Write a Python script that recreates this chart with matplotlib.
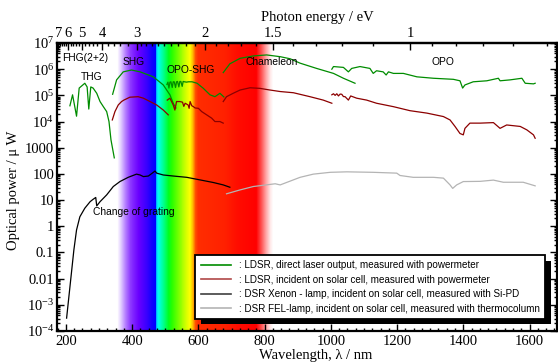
import numpy as np
import matplotlib
matplotlib.use('Agg')
import matplotlib.pyplot as plt
import matplotlib.patheffects as pe
from matplotlib.ticker import FixedLocator, FuncFormatter, NullFormatter
from matplotlib.lines import Line2D

plt.rcParams['font.family'] = ['Liberation Serif', 'DejaVu Serif']
plt.rcParams['mathtext.fontset'] = 'custom'
plt.rcParams['mathtext.rm'] = 'Liberation Serif'
plt.rcParams['mathtext.default'] = 'regular'

# ---------------- data (wavelength nm, power uW) ----------------
g_thg_nm = [212, 220, 232, 240, 257, 264, 269, 275, 282, 293, 303, 313, 323, 330, 336, 346]
g_thg_p = [4.0e4, 1.05e5, 1.6e4, 1.9e5, 2.9e5, 2.1e5, 3.0e4, 2.1e5, 1.9e5, 1.2e5, 5.8e4,
           3.7e4, 2.4e4, 1.0e4, 2.0e3, 4.1e2]
g_shg_nm = [341, 353, 373, 398, 424, 464, 494, 514, 524, 532]
g_shg_p = [1.1e5, 3.9e5, 7.9e5, 9.3e5, 7.9e5, 5.1e5, 2.5e5, 1.05e5, 5.0e4, 3.3e4]
g_oposhg_nm = [505, 508, 511, 514, 517, 521, 524, 527, 531, 534, 537, 541, 544, 547, 551,
               554, 558, 564, 570, 581, 596, 614, 635, 650, 665, 677]
g_oposhg_p = [2.6e5, 3.2e5, 1.9e5, 3.2e5, 3.3e5, 2.0e5, 3.3e5, 3.3e5, 2.0e5, 3.3e5, 3.4e5,
              2.1e5, 3.4e5, 3.4e5, 2.2e5, 3.4e5, 3.3e5, 3.2e5, 3.3e5, 3.3e5, 2.9e5, 1.9e5,
              1.05e5, 8.9e4, 1.2e5, 8.7e4]
g_cham_nm = [675, 695, 726, 766, 806, 847, 877, 907, 957, 1008, 1038, 1073]
g_cham_p = [7.4e5, 1.6e6, 2.6e6, 3.2e6, 3.5e6, 3.0e6, 2.5e6, 1.7e6, 1.07e6, 6.9e5, 4.5e5, 2.9e5]
g_opo_nm = [1003, 1008, 1038, 1053, 1063, 1088, 1118, 1128, 1138, 1158, 1167, 1174, 1189,
            1219, 1260, 1310, 1370, 1390, 1398, 1405, 1430, 1471, 1506, 1511, 1541, 1577,
            1587, 1612, 1617]
g_opo_p = [1.0e6, 1.26e6, 1.17e6, 7.9e5, 1.07e6, 1.26e6, 1.07e6, 6.9e5, 8.7e5, 7.9e5, 6.0e5,
           7.9e5, 6.9e5, 6.9e5, 5.1e5, 4.5e5, 4.1e5, 3.6e5, 1.9e5, 2.5e5, 3.3e5, 3.6e5,
           4.5e5, 3.6e5, 3.9e5, 4.5e5, 2.9e5, 2.75e5, 2.9e5]

r_shg_nm = [340, 348, 358, 368, 375, 393, 418, 434, 454, 474, 494, 509]
r_shg_p = [1.15e4, 2.4e4, 4.3e4, 5.8e4, 6.6e4, 8.5e4, 8.9e4, 7.8e4, 5.8e4, 4.3e4, 2.75e4, 1.8e4]
r_oposhg_nm = [506, 514, 524, 529, 534, 544, 552, 556, 560, 565, 569, 572, 575, 580, 585,
               590, 600, 610, 625, 640, 650, 665, 675]
r_oposhg_p = [6.6e4, 7.8e4, 4.3e4, 2.75e4, 5.8e4, 5.8e4, 5.5e4, 3.8e4, 5.0e4, 4.6e4, 4.3e4,
              3.2e4, 5.8e4, 4.0e4, 3.7e4, 3.3e4, 3.2e4, 2.4e4, 1.8e4, 1.35e4, 1.0e4, 1.0e4,
              8.7e3]
r_cham_nm = [675, 685, 705, 726, 756, 786, 816, 847, 887, 937, 977, 1003]
r_cham_p = [5.8e4, 8.9e4, 1.2e5, 1.6e5, 1.95e5, 1.85e5, 1.6e5, 1.4e5, 1.26e5, 8.9e4, 6.6e4, 5.0e4]
r_opo_nm = [1003, 1008, 1013, 1018, 1023, 1028, 1033, 1038, 1043, 1053, 1060, 1078, 1108,
            1138, 1189, 1239, 1290, 1340, 1360, 1375, 1390, 1400, 1405, 1420, 1451, 1491,
            1511, 1531, 1572, 1592, 1612, 1617]
r_opo_p = [1.05e5, 1.15e5, 1.0e5, 1.15e5, 9.5e4, 1.12e5, 1.1e5, 9.0e4, 8.9e4, 6.6e4, 9.5e4,
           7.8e4, 6.6e4, 5.0e4, 3.7e4, 2.6e4, 2.1e4, 1.55e4, 1.15e4, 6.5e3, 3.5e3, 3.1e3,
           5.5e3, 8.7e3, 8.7e3, 9.1e3, 5.5e3, 7.4e3, 6.5e3, 4.8e3, 3.1e3, 2.3e3]

k_nm = [202, 224, 232, 242, 257, 273, 282, 290, 293, 303, 323, 343, 363, 388, 413, 424,
        434, 449, 464, 469, 474, 494, 524, 565, 605, 645, 675, 695]
k_p = [3.1e-4, 0.126, 0.72, 2.3, 4.9, 8.7, 10.7, 12.6, 6.0, 8.7, 15.8, 33, 51, 74, 98, 91,
       79, 83, 115, 129, 107, 91, 83, 74, 59, 47, 38, 31]

gr_nm = [685, 726, 766, 832, 847, 907, 947, 998, 1048, 1128, 1199, 1209, 1249, 1310, 1340,
         1360, 1368, 1380, 1400, 1451, 1491, 1521, 1581, 1617]
gr_p = [17.4, 24.5, 33, 42, 38, 74, 98, 115, 120, 115, 107, 87, 74, 74, 69, 38, 28, 38, 51,
        52, 58, 48, 48, 35]

legend_labels = [": LDSR, direct laser output, measured with powermeter",
                 ": LDSR, incident on solar cell, measured with powermeter",
                 ": DSR Xenon - lamp, incident on solar cell, measured with Si-PD",
                 ": DSR FEL-lamp, incident on solar cell, measured with thermocolumn"]
energy_ticks = [7, 6, 5, 4, 3, 2, 1.5, 1]
wl_ticks = [200, 400, 600, 800, 1000, 1200, 1400, 1600]
y_exponents = list(range(-4, 8))

# ---------------- figure ----------------
fig = plt.figure(figsize=(5.58, 3.64), dpi=100)
ax = fig.add_axes([57/558, 33/364, 500/558, 288/364])
ax.set_yscale('log')
ax.set_xlim(173, 1683)
ax.set_ylim(1e-4, 1e7)

# spectral background
stops = [(355, (255, 255, 255)), (365, (228, 210, 255)), (380, (180, 125, 255)),
         (395, (140, 55, 255)), (420, (105, 0, 255)), (445, (55, 0, 255)), (460, (15, 0, 255)),
         (471, (0, 0, 255)), (474, (0, 215, 255)), (480, (0, 255, 235)), (495, (0, 255, 140)),
         (510, (0, 255, 30)), (520, (40, 255, 0)), (545, (140, 255, 0)), (565, (220, 255, 0)),
         (575, (255, 255, 0)), (583, (255, 190, 0)), (592, (255, 75, 0)), (600, (255, 45, 0)),
         (680, (255, 32, 0)), (720, (255, 12, 0)), (775, (255, 0, 0)), (790, (255, 80, 80)),
         (805, (255, 170, 170)), (818, (255, 235, 235)), (826, (255, 255, 255))]
sn = np.array([s[0] for s in stops], float)
sc = np.array([s[1] for s in stops], float) / 255.0
xe = np.arange(355, 827, 1.0)
xc = 0.5 * (xe[:-1] + xe[1:])
cols = np.stack([np.interp(xc, sn, sc[:, i]) for i in range(3)], axis=1)
img = cols[np.newaxis, :, :]
ax.pcolormesh(xe, [1e-4, 1e7], img, shading='flat', zorder=0, rasterized=True)

green = '#008c00'
red = '#8c0000'
black = '#000000'
gray = '#b4b4b4'
lw = 0.9
for xs, ys in [(g_thg_nm, g_thg_p), (g_shg_nm, g_shg_p), (g_oposhg_nm, g_oposhg_p),
               (g_cham_nm, g_cham_p), (g_opo_nm, g_opo_p)]:
    ax.plot(xs, ys, color=green, lw=lw, zorder=3)
for xs, ys in [(r_shg_nm, r_shg_p), (r_oposhg_nm, r_oposhg_p), (r_cham_nm, r_cham_p),
               (r_opo_nm, r_opo_p)]:
    ax.plot(xs, ys, color=red, lw=lw, zorder=3)
ax.plot(k_nm, k_p, color=black, lw=lw, zorder=3)
ax.plot(gr_nm, gr_p, color=gray, lw=lw, zorder=3)

# annotations
sans = ['Liberation Sans', 'DejaVu Sans']
fs_a = 7.4
ax.text(187, 2.6e6, 'FHG(2+2)', family=sans, fontsize=fs_a, ha='left', va='center', zorder=4)
ax.text(278, 5.2e5, 'THG', family=sans, fontsize=fs_a, ha='center', va='center', zorder=4)
ax.text(405, 1.8e6, 'SHG', family=sans, fontsize=fs_a, ha='center', va='center', zorder=4)
ax.text(577, 9.3e5, 'OPO-SHG', family=sans, fontsize=fs_a, ha='center', va='center', zorder=4)
ax.text(741, 1.8e6, 'Chameleon', family=sans, fontsize=fs_a, ha='left', va='center', zorder=4)
ax.text(1339, 1.9e6, 'OPO', family=sans, fontsize=fs_a, ha='center', va='center', zorder=4)
ax.text(282, 3.5, 'Change of grating', family=sans, fontsize=fs_a, ha='left', va='center', zorder=4)

# axes styling
for s in ax.spines.values():
    s.set_linewidth(1.6)
    s.set_zorder(5)
ax.xaxis.set_major_locator(FixedLocator(wl_ticks))
ax.xaxis.set_minor_locator(FixedLocator(np.arange(175, 1680, 25)))
ax.yaxis.set_major_locator(FixedLocator([10.0 ** e for e in y_exponents]))
ax.yaxis.set_minor_locator(FixedLocator([m * 10.0 ** e for e in y_exponents[:-1]
                                         for m in range(2, 10)]))
ax.yaxis.set_minor_formatter(NullFormatter())

def yfmt(v, pos):
    e = int(round(np.log10(v)))
    names = {-2: '0.01', -1: '0.1', 0: '1', 1: '10', 2: '100', 3: '1000'}
    if e in names:
        return names[e]
    return r'$10^{%d}$' % e
ax.yaxis.set_major_formatter(FuncFormatter(yfmt))
ax.tick_params(which='both', direction='in', top=False, right=True, labelsize=10.5,
               width=1.0)
ax.tick_params(which='major', length=5)
ax.tick_params(which='minor', length=2.5)
ax.tick_params(axis='x', pad=3)
ax.tick_params(axis='y', pad=2)

def conv(x):
    x = np.asarray(x, float)
    with np.errstate(divide='ignore', invalid='ignore'):
        return np.where(x > 0, 1240.0 / np.where(x > 0, x, 1), np.inf)

sec = ax.secondary_xaxis('top', functions=(conv, conv))
sec.xaxis.set_major_locator(FixedLocator(energy_ticks))
minor_e = [round(v, 2) for v in np.arange(1.1, 3.0, 0.1) if abs(v - 1.5) > 0.01 and abs(v - 2) > 0.01]
minor_e += [round(v, 2) for v in np.arange(3.2, 7.0, 0.2) if abs(v - round(v)) > 0.01]
minor_e += [0.95, 0.9, 0.85, 0.8, 0.75]
sec.xaxis.set_minor_locator(FixedLocator(minor_e))
sec.xaxis.set_major_formatter(FuncFormatter(lambda v, p: ('%g' % v)))
sec.tick_params(which='both', direction='in', labelsize=10.5, width=1.0, pad=2)
sec.tick_params(which='major', length=5)
sec.tick_params(which='minor', length=2.5)
sec.spines['top'].set_linewidth(1.6)

fig.text(316/558, 1 - 355/364, 'Wavelength, λ / nm', fontsize=10.5, ha='center', va='center')
fig.text(317/558, 1 - 18/364, 'Photon energy / eV', fontsize=10.5, ha='center', va='center')
fig.text(14/558, 1 - 190/364, 'Optical power / μ W', fontsize=10.5, ha='center', va='center',
         rotation=90)

# legend
handles = [Line2D([], [], color=c, lw=1.2) for c in (green, '#b04848', '#404040', gray)]
leg = ax.legend(handles, legend_labels, loc='lower right', bbox_to_anchor=(0.976, 0.042),
                borderaxespad=0, prop={'family': sans, 'size': 7.1}, handlelength=3.1,
                handletextpad=0.8, labelspacing=0.45, borderpad=0.52, fancybox=False,
                framealpha=1, edgecolor='black')
leg.get_frame().set_linewidth(1.3)
leg.get_frame().set_path_effects([pe.SimplePatchShadow(offset=(4, -4), shadow_rgbFace='black',
                                                       alpha=1), pe.Normal()])
leg.set_zorder(6)

fig.savefig('out.png', dpi=100)
